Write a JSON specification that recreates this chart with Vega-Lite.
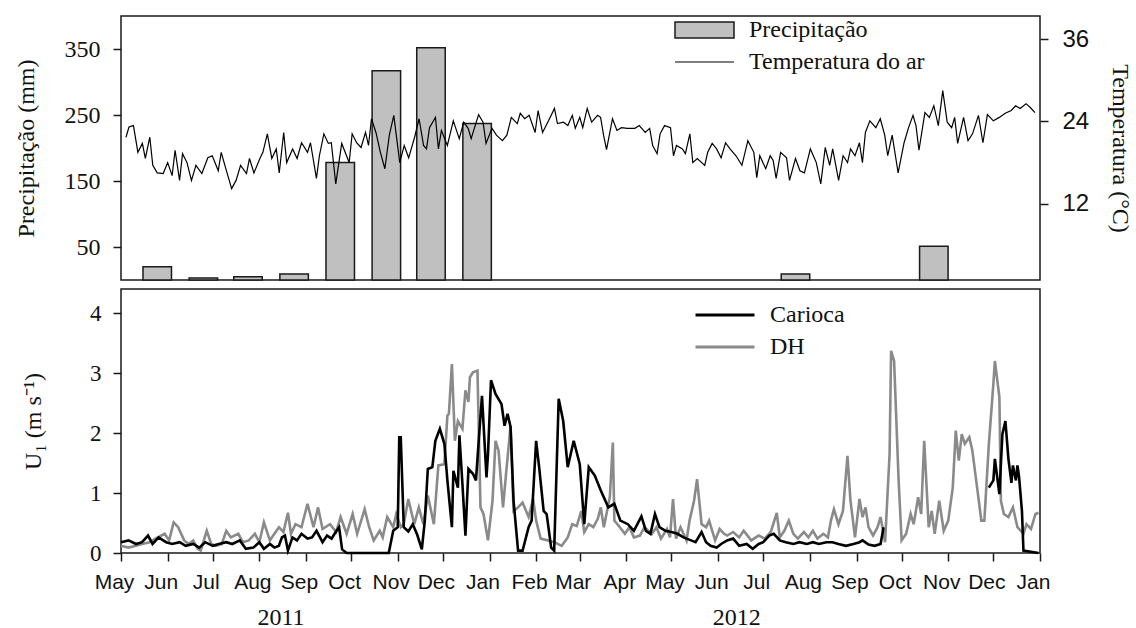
{
  "$schema": "https://vega.github.io/schema/vega-lite/v6.json",
  "background": "white",
  "padding": {"left": 13, "top": 15, "right": 5, "bottom": 0},
  "spacing": 6,
  "config": {
    "view": {"stroke": "#1a1a1a", "strokeWidth": 1.5},
    "axis": {
      "grid": false,
      "domain": false,
      "tickColor": "#1a1a1a",
      "tickWidth": 1.5,
      "tickSize": 8,
      "labelColor": "#111111",
      "titleColor": "#111111",
      "titleFontWeight": "normal"
    },
    "legend": {
      "padding": 0,
      "labelFont": "Liberation Serif",
      "labelFontSize": 24,
      "labelColor": "#111111",
      "labelOffset": 14,
      "labelLimit": 400,
      "clipHeight": 24
    }
  },
  "datasets": {
    "chuva": [
      {"data": "2011-05-22", "precipitacao": 20},
      {"data": "2011-06-22", "precipitacao": 3},
      {"data": "2011-07-22", "precipitacao": 5},
      {"data": "2011-08-22", "precipitacao": 9},
      {"data": "2011-09-22", "precipitacao": 178},
      {"data": "2011-10-23", "precipitacao": 317},
      {"data": "2011-11-22", "precipitacao": 352},
      {"data": "2011-12-23", "precipitacao": 237},
      {"data": "2012-07-24", "precipitacao": 9},
      {"data": "2012-10-25", "precipitacao": 51}
    ],
    "temperatura": [
      {"data": "2011-05-01", "t": 21.7}, {"data": "2011-05-03", "t": 23.2}, {"data": "2011-05-06", "t": 23.4},
      {"data": "2011-05-09", "t": 19.5}, {"data": "2011-05-12", "t": 20.8}, {"data": "2011-05-14", "t": 18.6},
      {"data": "2011-05-17", "t": 21.7}, {"data": "2011-05-19", "t": 17.6}, {"data": "2011-05-22", "t": 16.5},
      {"data": "2011-05-26", "t": 16.4}, {"data": "2011-05-29", "t": 18.0}, {"data": "2011-06-01", "t": 16.1},
      {"data": "2011-06-03", "t": 19.8}, {"data": "2011-06-06", "t": 15.4}, {"data": "2011-06-08", "t": 19.3},
      {"data": "2011-06-11", "t": 18.0}, {"data": "2011-06-14", "t": 15.4}, {"data": "2011-06-17", "t": 17.6},
      {"data": "2011-06-21", "t": 16.4}, {"data": "2011-06-25", "t": 18.7}, {"data": "2011-06-28", "t": 19.0},
      {"data": "2011-07-02", "t": 16.8}, {"data": "2011-07-04", "t": 19.5}, {"data": "2011-07-07", "t": 17.2},
      {"data": "2011-07-11", "t": 14.2}, {"data": "2011-07-14", "t": 15.4}, {"data": "2011-07-17", "t": 17.6},
      {"data": "2011-07-21", "t": 16.4}, {"data": "2011-07-23", "t": 18.6}, {"data": "2011-07-26", "t": 16.5},
      {"data": "2011-07-30", "t": 18.6}, {"data": "2011-08-01", "t": 19.5}, {"data": "2011-08-04", "t": 22.2},
      {"data": "2011-08-07", "t": 18.6}, {"data": "2011-08-10", "t": 20.0}, {"data": "2011-08-12", "t": 16.5},
      {"data": "2011-08-15", "t": 22.4}, {"data": "2011-08-17", "t": 18.0}, {"data": "2011-08-21", "t": 20.0},
      {"data": "2011-08-24", "t": 18.6}, {"data": "2011-08-27", "t": 20.9}, {"data": "2011-08-31", "t": 19.5},
      {"data": "2011-09-02", "t": 20.9}, {"data": "2011-09-06", "t": 15.7}, {"data": "2011-09-08", "t": 19.0},
      {"data": "2011-09-11", "t": 22.2}, {"data": "2011-09-14", "t": 20.8}, {"data": "2011-09-16", "t": 20.9},
      {"data": "2011-09-19", "t": 14.9}, {"data": "2011-09-23", "t": 20.8}, {"data": "2011-09-28", "t": 18.0},
      {"data": "2011-09-30", "t": 22.2}, {"data": "2011-10-03", "t": 20.9}, {"data": "2011-10-06", "t": 20.2},
      {"data": "2011-10-09", "t": 22.4}, {"data": "2011-10-11", "t": 20.5}, {"data": "2011-10-13", "t": 24.4},
      {"data": "2011-10-16", "t": 22.4}, {"data": "2011-10-19", "t": 19.5}, {"data": "2011-10-22", "t": 17.1},
      {"data": "2011-10-25", "t": 22.0}, {"data": "2011-10-28", "t": 24.9}, {"data": "2011-11-01", "t": 18.0},
      {"data": "2011-11-04", "t": 20.5}, {"data": "2011-11-07", "t": 18.7}, {"data": "2011-11-11", "t": 21.7},
      {"data": "2011-11-14", "t": 24.4}, {"data": "2011-11-17", "t": 20.5}, {"data": "2011-11-19", "t": 20.0},
      {"data": "2011-11-21", "t": 23.1}, {"data": "2011-11-25", "t": 24.6}, {"data": "2011-11-27", "t": 20.0},
      {"data": "2011-11-29", "t": 22.7}, {"data": "2011-12-03", "t": 20.5}, {"data": "2011-12-07", "t": 24.1},
      {"data": "2011-12-11", "t": 21.5}, {"data": "2011-12-14", "t": 23.9}, {"data": "2011-12-17", "t": 23.0},
      {"data": "2011-12-19", "t": 21.5}, {"data": "2011-12-24", "t": 25.0}, {"data": "2011-12-27", "t": 23.9},
      {"data": "2011-12-29", "t": 20.8}, {"data": "2012-01-02", "t": 23.0}, {"data": "2012-01-05", "t": 22.0},
      {"data": "2012-01-09", "t": 21.2}, {"data": "2012-01-12", "t": 22.0}, {"data": "2012-01-15", "t": 24.6},
      {"data": "2012-01-19", "t": 23.7}, {"data": "2012-01-21", "t": 25.2}, {"data": "2012-01-24", "t": 24.4},
      {"data": "2012-01-27", "t": 24.9}, {"data": "2012-01-31", "t": 22.4}, {"data": "2012-02-02", "t": 25.6},
      {"data": "2012-02-05", "t": 22.4}, {"data": "2012-02-09", "t": 24.1}, {"data": "2012-02-13", "t": 25.9},
      {"data": "2012-02-15", "t": 23.7}, {"data": "2012-02-19", "t": 23.9}, {"data": "2012-02-22", "t": 23.4},
      {"data": "2012-02-25", "t": 24.9}, {"data": "2012-02-27", "t": 23.0}, {"data": "2012-03-01", "t": 24.6},
      {"data": "2012-03-03", "t": 23.1}, {"data": "2012-03-06", "t": 25.9}, {"data": "2012-03-09", "t": 23.9},
      {"data": "2012-03-13", "t": 24.9}, {"data": "2012-03-15", "t": 24.6}, {"data": "2012-03-17", "t": 22.0},
      {"data": "2012-03-19", "t": 19.9}, {"data": "2012-03-23", "t": 24.4}, {"data": "2012-03-26", "t": 22.7},
      {"data": "2012-03-29", "t": 23.1}, {"data": "2012-04-02", "t": 23.0}, {"data": "2012-04-07", "t": 23.0},
      {"data": "2012-04-10", "t": 23.4}, {"data": "2012-04-14", "t": 22.4}, {"data": "2012-04-17", "t": 23.0},
      {"data": "2012-04-19", "t": 20.5}, {"data": "2012-04-22", "t": 19.3}, {"data": "2012-04-24", "t": 22.2},
      {"data": "2012-04-27", "t": 23.4}, {"data": "2012-05-01", "t": 23.1}, {"data": "2012-05-03", "t": 19.0},
      {"data": "2012-05-05", "t": 20.5}, {"data": "2012-05-09", "t": 20.0}, {"data": "2012-05-11", "t": 19.3},
      {"data": "2012-05-14", "t": 22.2}, {"data": "2012-05-16", "t": 18.0}, {"data": "2012-05-19", "t": 18.6},
      {"data": "2012-05-24", "t": 17.6}, {"data": "2012-05-26", "t": 19.5}, {"data": "2012-05-29", "t": 20.8},
      {"data": "2012-06-01", "t": 20.0}, {"data": "2012-06-04", "t": 18.7}, {"data": "2012-06-07", "t": 20.9},
      {"data": "2012-06-10", "t": 20.0}, {"data": "2012-06-14", "t": 19.0}, {"data": "2012-06-18", "t": 17.6},
      {"data": "2012-06-22", "t": 21.2}, {"data": "2012-06-26", "t": 19.5}, {"data": "2012-06-28", "t": 15.8},
      {"data": "2012-06-30", "t": 19.0}, {"data": "2012-07-04", "t": 17.1}, {"data": "2012-07-07", "t": 19.0},
      {"data": "2012-07-09", "t": 18.3}, {"data": "2012-07-11", "t": 15.7}, {"data": "2012-07-14", "t": 19.5},
      {"data": "2012-07-18", "t": 18.7}, {"data": "2012-07-20", "t": 15.4}, {"data": "2012-07-24", "t": 18.6},
      {"data": "2012-07-27", "t": 16.8}, {"data": "2012-07-30", "t": 16.5}, {"data": "2012-08-03", "t": 20.0},
      {"data": "2012-08-07", "t": 18.0}, {"data": "2012-08-10", "t": 14.9}, {"data": "2012-08-13", "t": 20.2},
      {"data": "2012-08-16", "t": 17.6}, {"data": "2012-08-18", "t": 20.0}, {"data": "2012-08-22", "t": 15.4},
      {"data": "2012-08-25", "t": 19.0}, {"data": "2012-08-28", "t": 18.0}, {"data": "2012-08-30", "t": 20.0},
      {"data": "2012-09-02", "t": 19.0}, {"data": "2012-09-05", "t": 20.9}, {"data": "2012-09-07", "t": 18.0},
      {"data": "2012-09-09", "t": 22.4}, {"data": "2012-09-12", "t": 24.1}, {"data": "2012-09-16", "t": 23.1},
      {"data": "2012-09-19", "t": 24.4}, {"data": "2012-09-22", "t": 22.0}, {"data": "2012-09-24", "t": 19.0},
      {"data": "2012-09-27", "t": 22.0}, {"data": "2012-10-01", "t": 16.5}, {"data": "2012-10-05", "t": 20.9},
      {"data": "2012-10-08", "t": 23.1}, {"data": "2012-10-11", "t": 24.9}, {"data": "2012-10-13", "t": 23.4},
      {"data": "2012-10-15", "t": 19.8}, {"data": "2012-10-19", "t": 25.3}, {"data": "2012-10-22", "t": 24.6},
      {"data": "2012-10-25", "t": 26.3}, {"data": "2012-10-28", "t": 23.4}, {"data": "2012-10-31", "t": 28.5},
      {"data": "2012-11-03", "t": 23.9}, {"data": "2012-11-06", "t": 23.1}, {"data": "2012-11-08", "t": 24.6},
      {"data": "2012-11-10", "t": 20.8}, {"data": "2012-11-14", "t": 24.6}, {"data": "2012-11-17", "t": 21.2},
      {"data": "2012-11-20", "t": 22.2}, {"data": "2012-11-24", "t": 24.9}, {"data": "2012-11-27", "t": 20.9},
      {"data": "2012-11-30", "t": 25.0}, {"data": "2012-12-04", "t": 24.1}, {"data": "2012-12-08", "t": 24.6},
      {"data": "2012-12-12", "t": 25.2}, {"data": "2012-12-16", "t": 25.6}, {"data": "2012-12-19", "t": 26.3},
      {"data": "2012-12-22", "t": 25.9}, {"data": "2012-12-26", "t": 26.6}, {"data": "2012-12-29", "t": 26.0},
      {"data": "2013-01-01", "t": 25.3}
    ],
    "carioca": [
      {"data": "2011-05-01", "u1": 0.18}, {"data": "2011-05-06", "u1": 0.21}, {"data": "2011-05-11", "u1": 0.15},
      {"data": "2011-05-15", "u1": 0.18}, {"data": "2011-05-19", "u1": 0.29}, {"data": "2011-05-22", "u1": 0.15},
      {"data": "2011-05-26", "u1": 0.26}, {"data": "2011-05-31", "u1": 0.18}, {"data": "2011-06-04", "u1": 0.15},
      {"data": "2011-06-09", "u1": 0.18}, {"data": "2011-06-13", "u1": 0.12}, {"data": "2011-06-18", "u1": 0.15},
      {"data": "2011-06-22", "u1": 0.09}, {"data": "2011-06-26", "u1": 0.18}, {"data": "2011-07-01", "u1": 0.12},
      {"data": "2011-07-05", "u1": 0.15}, {"data": "2011-07-10", "u1": 0.18}, {"data": "2011-07-14", "u1": 0.15},
      {"data": "2011-07-19", "u1": 0.21}, {"data": "2011-07-23", "u1": 0.07}, {"data": "2011-07-28", "u1": 0.09},
      {"data": "2011-08-01", "u1": 0.18}, {"data": "2011-08-04", "u1": 0.07}, {"data": "2011-08-08", "u1": 0.15},
      {"data": "2011-08-11", "u1": 0.09}, {"data": "2011-08-14", "u1": 0.12}, {"data": "2011-08-16", "u1": 0.26},
      {"data": "2011-08-18", "u1": 0.29}, {"data": "2011-08-20", "u1": 0.04}, {"data": "2011-08-23", "u1": 0.26},
      {"data": "2011-08-26", "u1": 0.21}, {"data": "2011-08-29", "u1": 0.32}, {"data": "2011-09-02", "u1": 0.24},
      {"data": "2011-09-05", "u1": 0.26}, {"data": "2011-09-08", "u1": 0.37}, {"data": "2011-09-12", "u1": 0.18},
      {"data": "2011-09-15", "u1": 0.29}, {"data": "2011-09-18", "u1": 0.24}, {"data": "2011-09-20", "u1": 0.32},
      {"data": "2011-09-23", "u1": 0.43}, {"data": "2011-09-25", "u1": 0.06}, {"data": "2011-09-28", "u1": 0.0},
      {"data": "2011-10-26", "u1": 0.0}, {"data": "2011-10-29", "u1": 0.37}, {"data": "2011-11-01", "u1": 0.43},
      {"data": "2011-11-02", "u1": 1.93}, {"data": "2011-11-03", "u1": 1.93}, {"data": "2011-11-05", "u1": 0.43},
      {"data": "2011-11-08", "u1": 0.36}, {"data": "2011-11-11", "u1": 0.48}, {"data": "2011-11-14", "u1": 0.3},
      {"data": "2011-11-17", "u1": 0.06}, {"data": "2011-11-19", "u1": 0.54}, {"data": "2011-11-21", "u1": 1.4},
      {"data": "2011-11-24", "u1": 1.43}, {"data": "2011-11-26", "u1": 1.87}, {"data": "2011-11-29", "u1": 2.07},
      {"data": "2011-12-02", "u1": 1.82}, {"data": "2011-12-04", "u1": 1.21}, {"data": "2011-12-07", "u1": 0.43},
      {"data": "2011-12-08", "u1": 1.37}, {"data": "2011-12-11", "u1": 1.09}, {"data": "2011-12-12", "u1": 1.96},
      {"data": "2011-12-14", "u1": 1.15}, {"data": "2011-12-16", "u1": 0.29}, {"data": "2011-12-18", "u1": 1.4},
      {"data": "2011-12-21", "u1": 1.32}, {"data": "2011-12-23", "u1": 1.21}, {"data": "2011-12-25", "u1": 1.93},
      {"data": "2011-12-27", "u1": 2.62}, {"data": "2011-12-30", "u1": 1.26}, {"data": "2011-12-31", "u1": 1.65},
      {"data": "2012-01-02", "u1": 2.88}, {"data": "2012-01-05", "u1": 2.65}, {"data": "2012-01-09", "u1": 2.48},
      {"data": "2012-01-11", "u1": 2.12}, {"data": "2012-01-13", "u1": 2.32}, {"data": "2012-01-15", "u1": 2.1},
      {"data": "2012-01-17", "u1": 0.87}, {"data": "2012-01-20", "u1": 0.04}, {"data": "2012-01-23", "u1": 0.04},
      {"data": "2012-01-27", "u1": 0.43}, {"data": "2012-01-29", "u1": 0.54}, {"data": "2012-02-01", "u1": 1.87},
      {"data": "2012-02-03", "u1": 1.43}, {"data": "2012-02-06", "u1": 0.7}, {"data": "2012-02-08", "u1": 0.65},
      {"data": "2012-02-11", "u1": 0.09}, {"data": "2012-02-13", "u1": 0.04}, {"data": "2012-02-16", "u1": 2.57},
      {"data": "2012-02-19", "u1": 2.2}, {"data": "2012-02-22", "u1": 1.43}, {"data": "2012-02-26", "u1": 1.87},
      {"data": "2012-03-01", "u1": 1.48}, {"data": "2012-03-04", "u1": 0.48}, {"data": "2012-03-07", "u1": 1.43},
      {"data": "2012-03-11", "u1": 1.29}, {"data": "2012-03-15", "u1": 1.04}, {"data": "2012-03-20", "u1": 0.76},
      {"data": "2012-03-24", "u1": 0.82}, {"data": "2012-03-28", "u1": 0.54}, {"data": "2012-04-02", "u1": 0.48},
      {"data": "2012-04-06", "u1": 0.37}, {"data": "2012-04-11", "u1": 0.61}, {"data": "2012-04-14", "u1": 0.37},
      {"data": "2012-04-17", "u1": 0.32}, {"data": "2012-04-20", "u1": 0.65}, {"data": "2012-04-23", "u1": 0.43},
      {"data": "2012-04-27", "u1": 0.37}, {"data": "2012-05-01", "u1": 0.35}, {"data": "2012-05-05", "u1": 0.32},
      {"data": "2012-05-09", "u1": 0.26}, {"data": "2012-05-14", "u1": 0.21}, {"data": "2012-05-17", "u1": 0.18},
      {"data": "2012-05-21", "u1": 0.35}, {"data": "2012-05-24", "u1": 0.18}, {"data": "2012-05-27", "u1": 0.12},
      {"data": "2012-05-31", "u1": 0.09}, {"data": "2012-06-03", "u1": 0.15}, {"data": "2012-06-07", "u1": 0.21},
      {"data": "2012-06-11", "u1": 0.24}, {"data": "2012-06-15", "u1": 0.12}, {"data": "2012-06-20", "u1": 0.15},
      {"data": "2012-06-24", "u1": 0.07}, {"data": "2012-06-28", "u1": 0.15}, {"data": "2012-07-01", "u1": 0.18},
      {"data": "2012-07-05", "u1": 0.29}, {"data": "2012-07-08", "u1": 0.32}, {"data": "2012-07-12", "u1": 0.21},
      {"data": "2012-07-16", "u1": 0.18}, {"data": "2012-07-21", "u1": 0.15}, {"data": "2012-07-25", "u1": 0.18},
      {"data": "2012-07-30", "u1": 0.15}, {"data": "2012-08-03", "u1": 0.18}, {"data": "2012-08-07", "u1": 0.15},
      {"data": "2012-08-12", "u1": 0.18}, {"data": "2012-08-16", "u1": 0.18}, {"data": "2012-08-20", "u1": 0.15},
      {"data": "2012-08-25", "u1": 0.12}, {"data": "2012-08-30", "u1": 0.15}, {"data": "2012-09-03", "u1": 0.18},
      {"data": "2012-09-05", "u1": 0.21}, {"data": "2012-09-09", "u1": 0.14}, {"data": "2012-09-13", "u1": 0.12},
      {"data": "2012-09-17", "u1": 0.15}, {"data": "2012-09-19", "u1": 0.43}, {"data": "2012-10-20", "u1": null},
      {"data": "2012-11-28", "u1": 1.09}, {"data": "2012-12-01", "u1": 1.21}, {"data": "2012-12-02", "u1": 1.57},
      {"data": "2012-12-05", "u1": 0.98}, {"data": "2012-12-07", "u1": 1.98}, {"data": "2012-12-09", "u1": 2.2},
      {"data": "2012-12-11", "u1": 1.57}, {"data": "2012-12-13", "u1": 1.17}, {"data": "2012-12-14", "u1": 1.46},
      {"data": "2012-12-16", "u1": 1.21}, {"data": "2012-12-17", "u1": 1.46}, {"data": "2012-12-18", "u1": 1.29},
      {"data": "2012-12-20", "u1": 0.7}, {"data": "2012-12-21", "u1": 0.04}, {"data": "2012-12-31", "u1": 0.0}
    ],
    "dh": [
      {"data": "2011-05-01", "u1": 0.12}, {"data": "2011-05-06", "u1": 0.09}, {"data": "2011-05-11", "u1": 0.12},
      {"data": "2011-05-15", "u1": 0.15}, {"data": "2011-05-20", "u1": 0.18}, {"data": "2011-05-24", "u1": 0.24},
      {"data": "2011-05-30", "u1": 0.32}, {"data": "2011-06-02", "u1": 0.21}, {"data": "2011-06-05", "u1": 0.51},
      {"data": "2011-06-08", "u1": 0.43}, {"data": "2011-06-12", "u1": 0.21}, {"data": "2011-06-15", "u1": 0.15},
      {"data": "2011-06-18", "u1": 0.21}, {"data": "2011-06-21", "u1": 0.07}, {"data": "2011-06-23", "u1": 0.04},
      {"data": "2011-06-27", "u1": 0.37}, {"data": "2011-06-30", "u1": 0.15}, {"data": "2011-07-03", "u1": 0.12},
      {"data": "2011-07-07", "u1": 0.15}, {"data": "2011-07-10", "u1": 0.37}, {"data": "2011-07-13", "u1": 0.26},
      {"data": "2011-07-18", "u1": 0.32}, {"data": "2011-07-21", "u1": 0.18}, {"data": "2011-07-25", "u1": 0.21},
      {"data": "2011-07-29", "u1": 0.32}, {"data": "2011-08-01", "u1": 0.18}, {"data": "2011-08-04", "u1": 0.51},
      {"data": "2011-08-08", "u1": 0.21}, {"data": "2011-08-11", "u1": 0.32}, {"data": "2011-08-14", "u1": 0.43},
      {"data": "2011-08-17", "u1": 0.35}, {"data": "2011-08-20", "u1": 0.67}, {"data": "2011-08-22", "u1": 0.32},
      {"data": "2011-08-25", "u1": 0.48}, {"data": "2011-08-29", "u1": 0.43}, {"data": "2011-09-02", "u1": 0.82},
      {"data": "2011-09-06", "u1": 0.43}, {"data": "2011-09-09", "u1": 0.76}, {"data": "2011-09-12", "u1": 0.4},
      {"data": "2011-09-17", "u1": 0.48}, {"data": "2011-09-21", "u1": 0.35}, {"data": "2011-09-24", "u1": 0.6},
      {"data": "2011-09-28", "u1": 0.32}, {"data": "2011-10-02", "u1": 0.65}, {"data": "2011-10-05", "u1": 0.32},
      {"data": "2011-10-10", "u1": 0.73}, {"data": "2011-10-13", "u1": 0.43}, {"data": "2011-10-16", "u1": 0.21},
      {"data": "2011-10-20", "u1": 0.37}, {"data": "2011-10-22", "u1": 0.26}, {"data": "2011-10-25", "u1": 0.6},
      {"data": "2011-10-29", "u1": 0.43}, {"data": "2011-10-31", "u1": 0.65}, {"data": "2011-11-03", "u1": 0.43},
      {"data": "2011-11-05", "u1": 0.48}, {"data": "2011-11-08", "u1": 0.9}, {"data": "2011-11-12", "u1": 0.48},
      {"data": "2011-11-15", "u1": 0.76}, {"data": "2011-11-18", "u1": 0.48}, {"data": "2011-11-21", "u1": 0.96},
      {"data": "2011-11-25", "u1": 0.48}, {"data": "2011-11-28", "u1": 1.46}, {"data": "2011-12-02", "u1": 1.48},
      {"data": "2011-12-04", "u1": 2.29}, {"data": "2011-12-05", "u1": 2.32}, {"data": "2011-12-07", "u1": 3.15},
      {"data": "2011-12-09", "u1": 1.87}, {"data": "2011-12-11", "u1": 2.2}, {"data": "2011-12-14", "u1": 2.07},
      {"data": "2011-12-16", "u1": 2.71}, {"data": "2011-12-18", "u1": 2.52}, {"data": "2011-12-19", "u1": 2.93},
      {"data": "2011-12-21", "u1": 3.01}, {"data": "2011-12-24", "u1": 3.04}, {"data": "2011-12-26", "u1": 0.76},
      {"data": "2011-12-28", "u1": 0.65}, {"data": "2011-12-31", "u1": 0.21}, {"data": "2012-01-03", "u1": 0.87},
      {"data": "2012-01-05", "u1": 1.87}, {"data": "2012-01-07", "u1": 1.71}, {"data": "2012-01-10", "u1": 0.76},
      {"data": "2012-01-12", "u1": 1.32}, {"data": "2012-01-15", "u1": 2.12}, {"data": "2012-01-17", "u1": 0.7},
      {"data": "2012-01-20", "u1": 0.76}, {"data": "2012-01-23", "u1": 0.84}, {"data": "2012-01-27", "u1": 0.6},
      {"data": "2012-01-30", "u1": 0.9}, {"data": "2012-02-01", "u1": 0.54}, {"data": "2012-02-04", "u1": 0.24},
      {"data": "2012-02-09", "u1": 0.21}, {"data": "2012-02-13", "u1": 0.18}, {"data": "2012-02-18", "u1": 0.12},
      {"data": "2012-02-22", "u1": 0.26}, {"data": "2012-02-25", "u1": 0.48}, {"data": "2012-02-28", "u1": 0.45},
      {"data": "2012-03-02", "u1": 0.7}, {"data": "2012-03-04", "u1": 0.35}, {"data": "2012-03-07", "u1": 0.48},
      {"data": "2012-03-10", "u1": 0.43}, {"data": "2012-03-13", "u1": 0.57}, {"data": "2012-03-15", "u1": 0.76},
      {"data": "2012-03-17", "u1": 0.43}, {"data": "2012-03-21", "u1": 0.93}, {"data": "2012-03-23", "u1": 1.84},
      {"data": "2012-03-24", "u1": 0.54}, {"data": "2012-03-27", "u1": 0.45}, {"data": "2012-03-31", "u1": 0.32},
      {"data": "2012-04-03", "u1": 0.43}, {"data": "2012-04-06", "u1": 0.26}, {"data": "2012-04-10", "u1": 0.29},
      {"data": "2012-04-13", "u1": 0.43}, {"data": "2012-04-18", "u1": 0.32}, {"data": "2012-04-21", "u1": 0.43},
      {"data": "2012-04-24", "u1": 0.24}, {"data": "2012-04-28", "u1": 0.4}, {"data": "2012-04-30", "u1": 0.26},
      {"data": "2012-05-02", "u1": 0.9}, {"data": "2012-05-04", "u1": 0.24}, {"data": "2012-05-07", "u1": 0.43},
      {"data": "2012-05-11", "u1": 0.21}, {"data": "2012-05-13", "u1": 0.54}, {"data": "2012-05-16", "u1": 0.87},
      {"data": "2012-05-18", "u1": 1.23}, {"data": "2012-05-21", "u1": 0.48}, {"data": "2012-05-24", "u1": 0.43},
      {"data": "2012-05-26", "u1": 0.54}, {"data": "2012-05-30", "u1": 0.21}, {"data": "2012-06-02", "u1": 0.4},
      {"data": "2012-06-05", "u1": 0.32}, {"data": "2012-06-07", "u1": 0.29}, {"data": "2012-06-11", "u1": 0.35},
      {"data": "2012-06-15", "u1": 0.26}, {"data": "2012-06-18", "u1": 0.37}, {"data": "2012-06-23", "u1": 0.21},
      {"data": "2012-06-28", "u1": 0.29}, {"data": "2012-07-02", "u1": 0.24}, {"data": "2012-07-06", "u1": 0.35},
      {"data": "2012-07-10", "u1": 0.67}, {"data": "2012-07-12", "u1": 0.26}, {"data": "2012-07-15", "u1": 0.37},
      {"data": "2012-07-18", "u1": 0.54}, {"data": "2012-07-21", "u1": 0.32}, {"data": "2012-07-24", "u1": 0.24},
      {"data": "2012-07-28", "u1": 0.35}, {"data": "2012-07-31", "u1": 0.26}, {"data": "2012-08-03", "u1": 0.37},
      {"data": "2012-08-06", "u1": 0.24}, {"data": "2012-08-10", "u1": 0.32}, {"data": "2012-08-13", "u1": 0.26},
      {"data": "2012-08-15", "u1": 0.54}, {"data": "2012-08-17", "u1": 0.73}, {"data": "2012-08-20", "u1": 0.48},
      {"data": "2012-08-23", "u1": 0.7}, {"data": "2012-08-26", "u1": 1.62}, {"data": "2012-08-28", "u1": 0.87},
      {"data": "2012-08-31", "u1": 0.26}, {"data": "2012-09-03", "u1": 0.9}, {"data": "2012-09-05", "u1": 0.6},
      {"data": "2012-09-07", "u1": 0.76}, {"data": "2012-09-09", "u1": 0.43}, {"data": "2012-09-12", "u1": 0.29},
      {"data": "2012-09-15", "u1": 0.43}, {"data": "2012-09-17", "u1": 0.6}, {"data": "2012-09-20", "u1": 0.18},
      {"data": "2012-09-23", "u1": 1.65}, {"data": "2012-09-24", "u1": 3.37}, {"data": "2012-09-26", "u1": 3.2},
      {"data": "2012-09-29", "u1": 1.21}, {"data": "2012-10-01", "u1": 0.21}, {"data": "2012-10-04", "u1": 0.32},
      {"data": "2012-10-07", "u1": 0.65}, {"data": "2012-10-09", "u1": 0.48}, {"data": "2012-10-12", "u1": 0.93},
      {"data": "2012-10-14", "u1": 0.65}, {"data": "2012-10-16", "u1": 1.87}, {"data": "2012-10-19", "u1": 0.43},
      {"data": "2012-10-21", "u1": 0.7}, {"data": "2012-10-23", "u1": 0.32}, {"data": "2012-10-26", "u1": 0.87},
      {"data": "2012-10-29", "u1": 0.37}, {"data": "2012-11-01", "u1": 0.54}, {"data": "2012-11-04", "u1": 1.09},
      {"data": "2012-11-06", "u1": 2.04}, {"data": "2012-11-08", "u1": 1.54}, {"data": "2012-11-10", "u1": 1.98},
      {"data": "2012-11-12", "u1": 1.82}, {"data": "2012-11-15", "u1": 1.93}, {"data": "2012-11-17", "u1": 1.71},
      {"data": "2012-11-21", "u1": 0.93}, {"data": "2012-11-23", "u1": 0.54}, {"data": "2012-11-25", "u1": 0.54},
      {"data": "2012-11-28", "u1": 1.82}, {"data": "2012-12-01", "u1": 2.82}, {"data": "2012-12-02", "u1": 3.2},
      {"data": "2012-12-05", "u1": 2.6}, {"data": "2012-12-06", "u1": 0.87}, {"data": "2012-12-08", "u1": 0.65},
      {"data": "2012-12-11", "u1": 0.6}, {"data": "2012-12-14", "u1": 0.76}, {"data": "2012-12-17", "u1": 0.43},
      {"data": "2012-12-21", "u1": 0.32}, {"data": "2012-12-23", "u1": 0.48}, {"data": "2012-12-26", "u1": 0.4},
      {"data": "2012-12-29", "u1": 0.65}, {"data": "2012-12-31", "u1": 0.67}
    ]
  },
  "vconcat": [
    {
      "width": 919,
      "height": 264,
      "layer": [
        {
          "data": {"name": "chuva"},
          "mark": {"type": "bar", "width": 28.5, "stroke": "#1a1a1a", "strokeWidth": 1.5},
          "encoding": {
            "x": {
              "field": "data", "type": "temporal",
              "scale": {"type": "utc", "domain": [{"year": 2011, "month": 5, "date": 1, "utc": true}, {"year": 2013, "month": 1, "date": 1, "utc": true}]},
              "axis": null
            },
            "y": {
              "field": "precipitacao", "type": "quantitative",
              "scale": {"domain": [0, 400], "nice": false},
              "axis": {
                "values": [50, 150, 250, 350],
                "title": "Precipitação (mm)",
                "titleFont": "Liberation Serif", "titleFontSize": 24,
                "titleX": -95, "titleBaseline": "middle",
                "labelFont": "Liberation Serif", "labelFontSize": 24, "labelPadding": 13
              }
            },
            "fill": {
              "datum": "Precipitação",
              "scale": {"range": ["#c0c0c0"]},
              "legend": {
                "title": null, "orient": "none", "legendX": 553, "legendY": 2,
                "symbolType": "M-1,-0.27H1V0.27H-1Z", "symbolSize": 3481,
                "symbolStrokeColor": "#1a1a1a", "symbolStrokeWidth": 1.5
              }
            }
          }
        },
        {
          "data": {"name": "temperatura"},
          "mark": {"type": "line", "strokeWidth": 1.2},
          "encoding": {
            "x": {
              "field": "data", "type": "temporal",
              "scale": {"type": "utc", "domain": [{"year": 2011, "month": 5, "date": 1, "utc": true}, {"year": 2013, "month": 1, "date": 1, "utc": true}]},
              "axis": null
            },
            "y": {
              "field": "t", "type": "quantitative",
              "scale": {"domain": [0.86, 39.4], "nice": false, "zero": false},
              "axis": {
                "orient": "right",
                "values": [12, 24, 36],
                "title": "Temperatura (°C)",
                "titleFont": "Liberation Serif", "titleFontSize": 24,
                "titleX": 79, "titleBaseline": "middle",
                "labelFont": "Liberation Sans", "labelFontSize": 24, "labelPadding": 14
              }
            },
            "stroke": {
              "datum": "Temperatura do ar",
              "scale": {"range": ["#000000"]},
              "legend": {
                "title": null, "orient": "none", "legendX": 553, "legendY": 34,
                "symbolType": "stroke", "symbolSize": 3481, "symbolStrokeWidth": 1.2
              }
            }
          }
        }
      ],
      "resolve": {"scale": {"y": "independent", "fill": "independent", "stroke": "independent"}}
    },
    {
      "width": 919,
      "height": 264,
      "layer": [
        {
          "data": {"name": "dh"},
          "mark": {"type": "line", "strokeWidth": 2.6},
          "encoding": {
            "x": {
              "field": "data", "type": "temporal",
              "scale": {"type": "utc", "domain": [{"year": 2011, "month": 5, "date": 1, "utc": true}, {"year": 2013, "month": 1, "date": 1, "utc": true}]},
              "axis": {
                "orient": "bottom",
                "title": null,
                "tickCount": {"interval": "month", "step": 1},
                "labelExpr": "utcFormat(datum.value, '%b')",
                "labelFont": "Liberation Sans", "labelFontSize": 21,
                "labelPadding": 10, "labelOffset": -7,
                "labelFlush": false, "labelOverlap": false
              }
            },
            "y": {
              "field": "u1", "type": "quantitative",
              "scale": {"domain": [0, 4.4], "nice": false},
              "axis": {
                "values": [0, 1, 2, 3, 4],
                "format": "d",
                "title": "U₁ (m s⁻¹)",
                "titleFont": "Liberation Serif", "titleFontSize": 24,
                "titleX": -88, "titleBaseline": "middle",
                "labelFont": "Liberation Serif", "labelFontSize": 23, "labelPadding": 12
              }
            },
            "stroke": {
              "datum": "DH",
              "scale": {"domain": ["Carioca", "DH"], "range": ["#000000", "#8a8a8a"]},
              "legend": {
                "title": null, "orient": "none", "legendX": 573, "legendY": 14,
                "symbolType": "stroke", "symbolSize": 3481, "symbolStrokeWidth": 3,
                "rowPadding": 8
              }
            }
          }
        },
        {
          "data": {"name": "carioca"},
          "mark": {"type": "line", "strokeWidth": 2.6, "invalid": "break-paths-show-domains"},
          "encoding": {
            "x": {
              "field": "data", "type": "temporal",
              "scale": {"type": "utc", "domain": [{"year": 2011, "month": 5, "date": 1, "utc": true}, {"year": 2013, "month": 1, "date": 1, "utc": true}]},
              "axis": {
                "orient": "bottom",
                "title": null,
                "values": [{"year": 2011, "month": 8, "date": 15, "utc": true}, {"year": 2012, "month": 6, "date": 13, "utc": true}],
                "labelExpr": "utcFormat(datum.value, '%Y')",
                "ticks": false,
                "labelFont": "Liberation Serif", "labelFontSize": 24,
                "labelPadding": 52, "labelFlush": false, "labelOverlap": false
              }
            },
            "y": {"field": "u1", "type": "quantitative"},
            "stroke": {"datum": "Carioca"}
          }
        }
      ],
      "resolve": {"scale": {"x": "independent"}, "axis": {"x": "independent"}}
    }
  ],
  "resolve": {"scale": {"x": "independent", "stroke": "independent", "fill": "independent"}}
}
